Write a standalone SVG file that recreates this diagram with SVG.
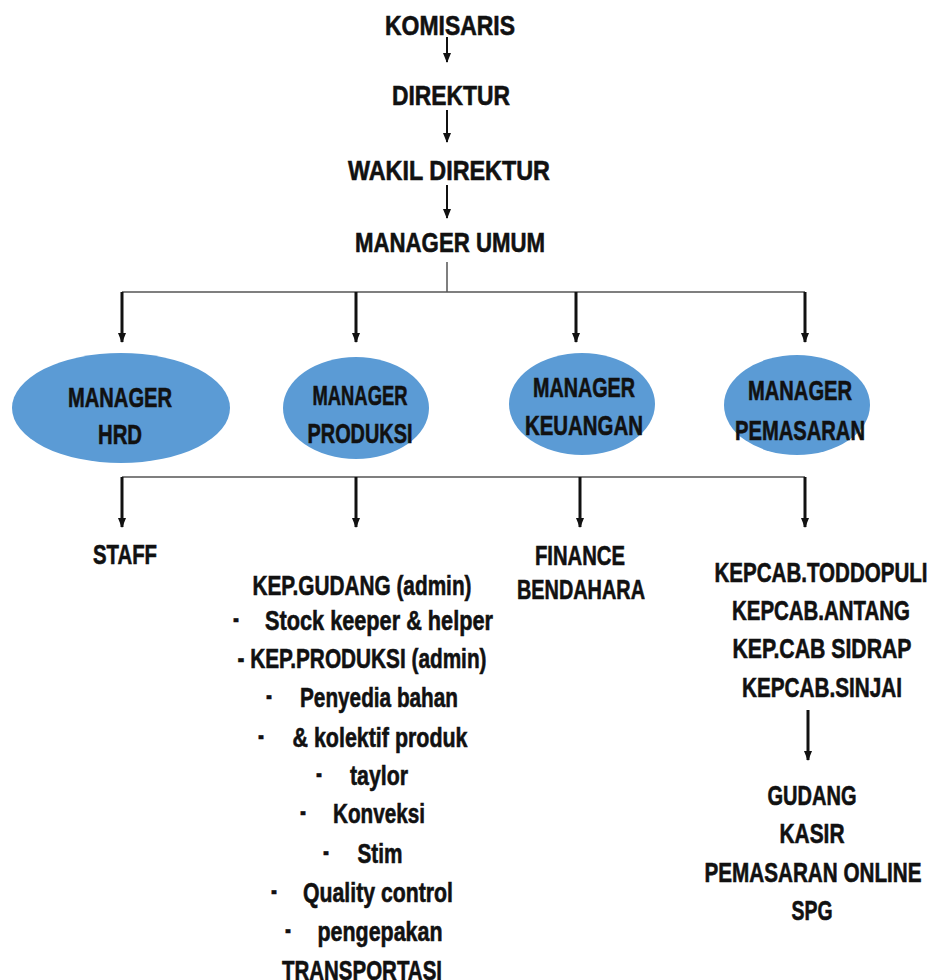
<svg xmlns="http://www.w3.org/2000/svg" width="933" height="980" viewBox="0 0 933 980">
<style>
text{font-family:"Liberation Sans",Arial,sans-serif;font-weight:bold;fill:#111;stroke:#111;stroke-width:0.6;text-anchor:middle;font-size:28px}
.ell{fill:#5b9bd5}
.h{stroke:#555;stroke-width:1.5;fill:none}
.a{stroke:#111;stroke-width:3;fill:none;marker-end:url(#ah)}
.a2{stroke:#111;stroke-width:2;fill:none;marker-end:url(#ah)}
</style>
<defs>
<marker id="ah" markerUnits="userSpaceOnUse" markerWidth="10" markerHeight="8" refX="9" refY="4" orient="auto">
<path d="M0,0 L10,4 L0,8 Z" fill="#111"/>
</marker>
</defs>
<rect width="933" height="980" fill="#fff"/>
<g id="connectors">
<line class="a2" x1="447" y1="37" x2="447" y2="62"/>
<line class="a2" x1="447" y1="110" x2="447" y2="142"/>
<line class="a2" x1="447" y1="185" x2="447" y2="218"/>
<line class="h" x1="447" y1="262" x2="447" y2="292"/>
<line class="h" x1="122" y1="292" x2="805" y2="292"/>
<line class="a" x1="122" y1="292" x2="122" y2="342"/>
<line class="a" x1="356" y1="292" x2="356" y2="342"/>
<line class="a" x1="576" y1="292" x2="576" y2="342"/>
<line class="a" x1="805" y1="292" x2="805" y2="342"/>
<line class="h" x1="122" y1="477" x2="805" y2="477"/>
<line class="a" x1="122" y1="477" x2="122" y2="527"/>
<line class="a" x1="356" y1="477" x2="356" y2="527"/>
<line class="a" x1="580" y1="477" x2="580" y2="527"/>
<line class="a" x1="805" y1="477" x2="805" y2="527"/>
<line class="a" x1="808" y1="710" x2="808" y2="760"/>
</g>
<g id="komisaris"><text x="450" y="35" textLength="130" lengthAdjust="spacingAndGlyphs">KOMISARIS</text></g>
<g id="direktur"><text x="451" y="105" textLength="118" lengthAdjust="spacingAndGlyphs">DIREKTUR</text></g>
<g id="wakil-direktur"><text x="449" y="180" textLength="202" lengthAdjust="spacingAndGlyphs">WAKIL DIREKTUR</text></g>
<g id="manager-umum"><text x="450" y="252" textLength="190" lengthAdjust="spacingAndGlyphs">MANAGER UMUM</text></g>
<g id="manager-hrd">
<ellipse class="ell" cx="121" cy="408" rx="109" ry="55"/>
<text x="120" y="407" textLength="104" lengthAdjust="spacingAndGlyphs">MANAGER</text>
<text x="120" y="444" textLength="44" lengthAdjust="spacingAndGlyphs">HRD</text>
</g>
<g id="manager-produksi">
<ellipse class="ell" cx="356" cy="408" rx="73" ry="51"/>
<text x="360" y="405" textLength="95" lengthAdjust="spacingAndGlyphs">MANAGER</text>
<text x="360" y="443" textLength="105" lengthAdjust="spacingAndGlyphs">PRODUKSI</text>
</g>
<g id="manager-keuangan">
<ellipse class="ell" cx="582" cy="404" rx="73" ry="51"/>
<text x="584" y="397" textLength="102" lengthAdjust="spacingAndGlyphs">MANAGER</text>
<text x="584" y="435" textLength="118" lengthAdjust="spacingAndGlyphs">KEUANGAN</text>
</g>
<g id="manager-pemasaran">
<ellipse class="ell" cx="797" cy="405" rx="73" ry="50"/>
<text x="800" y="400" textLength="104" lengthAdjust="spacingAndGlyphs">MANAGER</text>
<text x="800" y="440" textLength="130" lengthAdjust="spacingAndGlyphs">PEMASARAN</text>
</g>
<g id="staff"><text x="125" y="564" textLength="64" lengthAdjust="spacingAndGlyphs">STAFF</text></g>
<g id="produksi-staff">
<text x="362" y="595" textLength="219" lengthAdjust="spacingAndGlyphs">KEP.GUDANG (admin)</text>
<text x="236" y="628" textLength="6" lengthAdjust="spacingAndGlyphs">-</text><text x="379" y="630" textLength="228" lengthAdjust="spacingAndGlyphs">Stock keeper &amp; helper</text>
<text x="362" y="668" textLength="249" lengthAdjust="spacingAndGlyphs">- KEP.PRODUKSI (admin)</text>
<text x="269" y="705" textLength="6" lengthAdjust="spacingAndGlyphs">-</text><text x="379" y="707" textLength="158" lengthAdjust="spacingAndGlyphs">Penyedia bahan</text>
<text x="261" y="745" textLength="6" lengthAdjust="spacingAndGlyphs">-</text><text x="380" y="747" textLength="175" lengthAdjust="spacingAndGlyphs">&amp; kolektif produk</text>
<text x="319" y="783" textLength="6" lengthAdjust="spacingAndGlyphs">-</text><text x="379" y="785" textLength="58" lengthAdjust="spacingAndGlyphs">taylor</text>
<text x="303" y="821" textLength="6" lengthAdjust="spacingAndGlyphs">-</text><text x="379" y="823" textLength="92" lengthAdjust="spacingAndGlyphs">Konveksi</text>
<text x="326" y="861" textLength="6" lengthAdjust="spacingAndGlyphs">-</text><text x="380" y="863" textLength="45" lengthAdjust="spacingAndGlyphs">Stim</text>
<text x="274" y="900" textLength="6" lengthAdjust="spacingAndGlyphs">-</text><text x="378" y="902" textLength="150" lengthAdjust="spacingAndGlyphs">Quality control</text>
<text x="288" y="939" textLength="6" lengthAdjust="spacingAndGlyphs">-</text><text x="380" y="941" textLength="125" lengthAdjust="spacingAndGlyphs">pengepakan</text>
<text x="362" y="980" textLength="160" lengthAdjust="spacingAndGlyphs">TRANSPORTASI</text>
</g>
<g id="keuangan-staff">
<text x="580" y="565" textLength="90" lengthAdjust="spacingAndGlyphs">FINANCE</text>
<text x="581" y="599" textLength="128" lengthAdjust="spacingAndGlyphs">BENDAHARA</text>
</g>
<g id="cabang">
<text x="821" y="582" textLength="213" lengthAdjust="spacingAndGlyphs">KEPCAB.TODDOPULI</text>
<text x="821" y="620" textLength="178" lengthAdjust="spacingAndGlyphs">KEPCAB.ANTANG</text>
<text x="822" y="658" textLength="179" lengthAdjust="spacingAndGlyphs">KEP.CAB SIDRAP</text>
<text x="822" y="697" textLength="160" lengthAdjust="spacingAndGlyphs">KEPCAB.SINJAI</text>
</g>
<g id="cabang-staff">
<text x="812" y="805" textLength="89" lengthAdjust="spacingAndGlyphs">GUDANG</text>
<text x="812" y="843" textLength="65" lengthAdjust="spacingAndGlyphs">KASIR</text>
<text x="813" y="882" textLength="217" lengthAdjust="spacingAndGlyphs">PEMASARAN ONLINE</text>
<text x="812" y="920" textLength="41" lengthAdjust="spacingAndGlyphs">SPG</text>
</g>
</svg>
